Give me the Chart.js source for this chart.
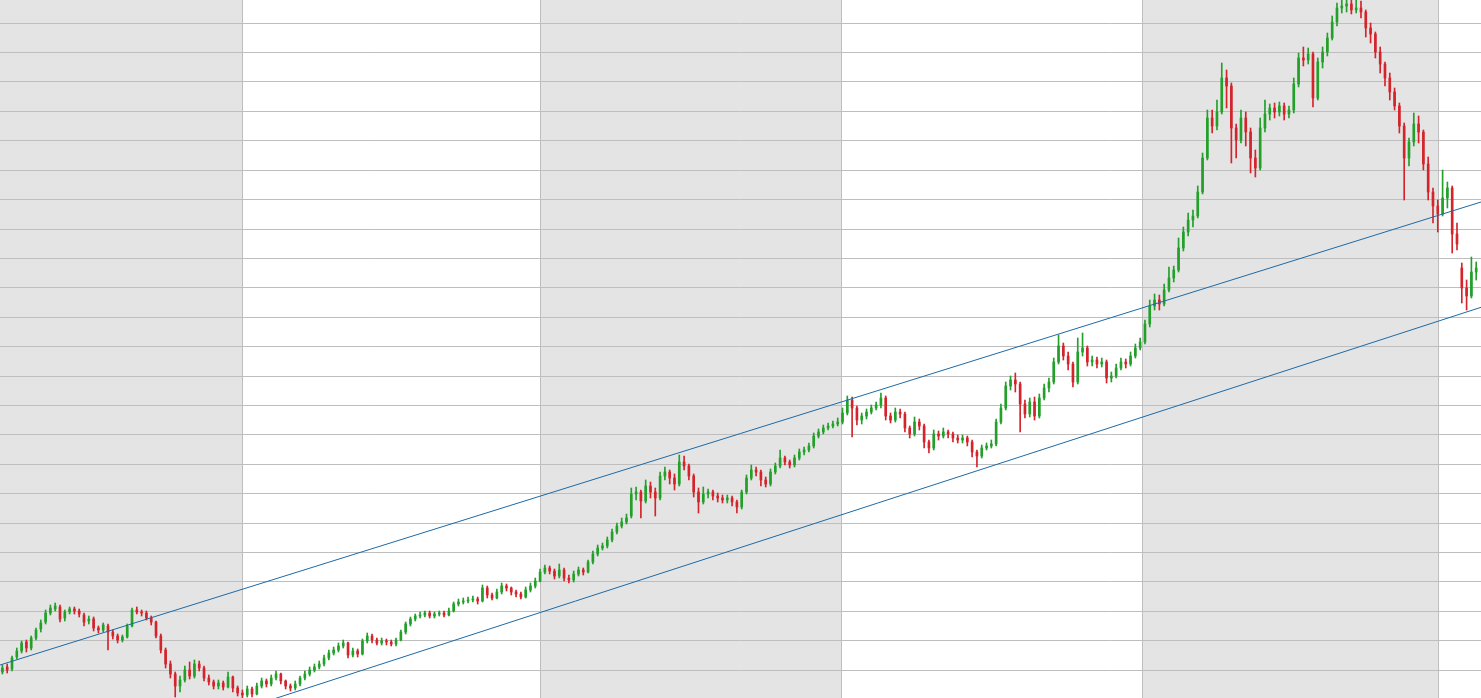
<!DOCTYPE html>
<html>
<head>
<meta charset="utf-8">
<title>Canal de tendência</title>
<script src="https://cdn.jsdelivr.net/npm/chart.js@4.4.1/dist/chart.umd.min.js"></script>
<style>
html, body { margin: 0; padding: 0; background: #ffffff; overflow: hidden; }
#caixa { position: relative; width: 1481px; height: 698px; }
</style>
</head>
<body>
<div id="caixa"><canvas id="grafico"></canvas></div>
<script>
// uma vela a cada 4 pregões, eixo x = índice do pregão
const passoDias = 4;
const totalDias = 1234;

const aberturas = [
    26, 31, 29, 41, 47, 56, 50, 60, 69, 76,
    85, 89, 91, 80, 86, 89, 87, 83, 77, 79,
    70, 68, 72, 66, 62, 58, 61, 72, 88, 86,
    85, 80, 76, 62, 48, 34, 24, 12, 18, 28,
    22, 34, 30, 20, 16, 12, 15, 11, 21, 10,
    5, 3, 9, 4, 12, 17, 14, 20, 24, 17,
    12, 10, 14, 20, 24, 28, 31, 34, 40, 45,
    48, 52, 55, 43, 47, 44, 57, 62, 58, 55,
    57, 56, 54, 58, 66, 74, 79, 82, 83, 85,
    82, 84, 85, 83, 87, 94, 96, 97, 98, 99,
    97, 110, 103, 100, 106, 112, 110, 106, 104, 101,
    108, 112, 117, 126, 130, 127, 122, 128, 120, 118,
    124, 128, 126, 136, 144, 150, 152, 158, 166, 172,
    176, 182, 204, 206, 197, 212, 206, 200, 222, 226,
    220, 214, 236, 232, 222, 206, 196, 204, 206, 202,
    200, 198, 200, 196, 191, 206, 220, 228, 226, 218,
    214, 226, 232, 240, 236, 233, 240, 246, 248, 252,
    262, 266, 270, 272, 274, 276, 285, 298, 290, 278,
    282, 286, 290, 293, 300, 282, 278, 286, 284, 270,
    264, 276, 272, 256, 250, 264, 262, 266, 264, 260,
    258, 260, 256, 246, 242, 250, 252, 254, 276, 290,
    312, 318, 314, 294, 284, 296, 282, 300, 310, 316,
    336, 352, 342, 334, 316, 346, 350, 336, 338, 334,
    336, 320, 322, 330, 336, 334, 342, 350, 356, 374,
    392, 398, 394, 408, 420, 428, 450, 466, 478, 482,
    506, 540, 580, 572, 586, 620, 612, 570, 558, 580,
    566, 540, 530, 570, 584, 590, 586, 592, 584, 588,
    614, 640, 638, 644, 600, 636, 646, 660, 676, 690,
    692, 694, 688, 690, 686, 670, 664, 646, 634, 620,
    606, 592, 572, 540, 556, 574, 566, 534, 506, 492,
    484, 500, 510, 464, 430, 410, 402, 426
];

const maximas = [
    33, 34, 42, 50, 57, 58, 62, 70, 78, 88,
    93, 95, 93, 88, 91, 91, 89, 85, 82, 81,
    72, 75, 74, 68, 64, 63, 74, 90, 91, 88,
    87, 82, 77, 64, 50, 37, 26, 22, 32, 36,
    38, 37, 32, 23, 18, 18, 17, 26, 22, 12,
    8, 12, 11, 15, 20, 19, 23, 27, 25, 18,
    14, 17, 22, 27, 31, 34, 37, 43, 48, 51,
    55, 58, 56, 50, 49, 59, 65, 64, 60, 60,
    59, 58, 60, 68, 76, 81, 84, 86, 87, 87,
    86, 87, 87, 90, 96, 99, 100, 101, 102, 101,
    113, 112, 105, 109, 115, 114, 111, 108, 106, 111,
    115, 120, 129, 133, 132, 129, 134, 130, 123, 127,
    131, 130, 138, 147, 153, 155, 161, 169, 175, 180,
    184, 210, 211, 208, 218, 216, 210, 226, 231, 228,
    224, 243, 242, 234, 224, 210, 211, 209, 208, 205,
    203, 203, 202, 198, 208, 223, 233, 231, 228, 221,
    229, 235, 248, 242, 238, 243, 249, 251, 255, 265,
    269, 273, 275, 277, 280, 290, 302, 301, 292, 285,
    289, 293, 296, 305, 302, 285, 290, 289, 286, 272,
    281, 279, 274, 258, 268, 267, 270, 268, 266, 263,
    263, 262, 258, 248, 253, 255, 258, 279, 294, 316,
    322, 325, 316, 298, 300, 301, 304, 314, 320, 340,
    363, 355, 346, 336, 360, 365, 352, 342, 341, 340,
    338, 326, 334, 340, 339, 346, 354, 360, 378, 398,
    404, 403, 414, 431, 432, 460, 471, 485, 488, 512,
    545, 588, 588, 598, 635, 628, 615, 574, 588, 586,
    570, 548, 580, 598, 594, 595, 596, 595, 592, 620,
    645, 651, 650, 646, 640, 651, 665, 682, 695, 698,
    700, 700, 698, 697, 688, 675, 666, 651, 636, 625,
    610, 595, 575, 560, 585, 582, 568, 541, 510, 498,
    528, 516, 512, 475, 435, 418, 441, 436
];

const minimas = [
    24, 25, 27, 39, 45, 46, 48, 58, 66, 74,
    83, 87, 76, 77, 84, 84, 81, 72, 74, 67,
    65, 66, 48, 59, 55, 56, 60, 71, 84, 82,
    78, 73, 60, 45, 30, 20, 1, 6, 16, 19,
    20, 27, 17, 13, 9, 9, 8, 10, 6, 2,
    0, 1, 1, 3, 10, 11, 12, 18, 14, 9,
    7, 8, 12, 18, 22, 26, 29, 32, 38, 43,
    46, 50, 40, 41, 41, 43, 55, 55, 53, 53,
    53, 52, 52, 57, 64, 72, 77, 80, 81, 80,
    80, 82, 81, 82, 86, 92, 94, 95, 96, 94,
    96, 100, 98, 99, 104, 107, 103, 101, 99, 100,
    106, 110, 116, 124, 124, 119, 120, 117, 115, 116,
    122, 123, 125, 134, 142, 148, 150, 156, 164, 170,
    174, 180, 198, 180, 195, 200, 182, 198, 218, 214,
    208, 212, 228, 218, 201, 185, 194, 200, 198, 196,
    195, 195, 192, 185, 189, 204, 218, 222, 212, 211,
    212, 224, 230, 233, 230, 231, 238, 243, 246, 250,
    260, 264, 268, 270, 272, 274, 283, 261, 273, 274,
    279, 284, 288, 290, 278, 275, 276, 280, 266, 260,
    262, 268, 250, 245, 248, 258, 260, 260, 256, 255,
    255, 252, 241, 231, 240, 248, 250, 252, 274, 288,
    308, 306, 266, 280, 281, 278, 280, 298, 306, 314,
    334, 338, 328, 311, 314, 342, 332, 332, 330, 331,
    315, 316, 320, 328, 330, 332, 340, 348, 354, 371,
    388, 388, 392, 406, 416, 426, 447, 462, 471, 480,
    504, 538, 565, 568, 584, 590, 535, 540, 555, 552,
    525, 521, 528, 566, 578, 580, 582, 578, 580, 585,
    611, 632, 634, 591, 598, 630, 642, 658, 672, 685,
    686, 684, 685, 680, 661, 655, 640, 625, 612, 598,
    588, 565, 498, 532, 552, 555, 528, 498, 475, 466,
    482, 490, 445, 448, 395, 388, 400, 418
];

const fechamentos = [
    30, 28, 40, 47, 55, 50, 60, 68, 75, 85,
    90, 92, 79, 86, 89, 87, 84, 76, 79, 70,
    68, 73, 66, 62, 58, 61, 72, 88, 86, 85,
    80, 76, 62, 48, 34, 24, 12, 18, 28, 22,
    34, 30, 20, 16, 12, 15, 11, 21, 10, 5,
    3, 9, 4, 12, 17, 14, 20, 24, 17, 12,
    10, 14, 20, 24, 28, 31, 34, 40, 45, 48,
    52, 55, 43, 47, 44, 57, 62, 58, 55, 57,
    56, 54, 58, 66, 74, 79, 82, 83, 85, 82,
    84, 85, 83, 87, 94, 96, 97, 98, 99, 97,
    110, 103, 100, 106, 112, 110, 106, 104, 101, 108,
    112, 117, 126, 130, 127, 122, 128, 120, 118, 124,
    128, 126, 136, 144, 150, 152, 158, 166, 172, 176,
    180, 204, 206, 197, 212, 206, 200, 222, 226, 220,
    214, 236, 232, 222, 206, 196, 204, 206, 202, 200,
    198, 200, 196, 191, 206, 220, 228, 226, 218, 214,
    226, 232, 240, 236, 233, 240, 246, 248, 252, 262,
    266, 270, 272, 274, 276, 285, 298, 290, 278, 282,
    286, 290, 293, 300, 282, 278, 286, 284, 270, 264,
    276, 272, 256, 250, 264, 262, 266, 264, 260, 258,
    260, 256, 246, 242, 250, 252, 254, 276, 290, 312,
    318, 314, 294, 284, 296, 282, 300, 310, 316, 336,
    352, 342, 334, 316, 346, 350, 336, 338, 334, 336,
    320, 322, 330, 336, 334, 342, 350, 356, 374, 392,
    398, 394, 408, 420, 428, 450, 466, 478, 482, 506,
    540, 580, 572, 586, 620, 612, 570, 558, 580, 566,
    540, 530, 570, 584, 590, 586, 592, 584, 588, 614,
    640, 638, 644, 600, 636, 646, 660, 676, 690, 692,
    694, 688, 690, 686, 670, 664, 646, 634, 620, 606,
    592, 572, 540, 556, 574, 566, 534, 506, 492, 484,
    500, 510, 464, 454, 410, 402, 426, 430
];

// primeiro pregão de cada ano
const iniciosAno = [202, 450, 701, 952, 1199];

// linhas horizontais da grade
const niveisGrade = [
    28, 57.4, 86.8, 116.2, 145.6, 175, 204.4, 233.8, 263.2, 292.6, 322, 351.4,
    380.8, 410.2, 439.6, 469, 498.4, 527.8, 557.2, 586.6, 616, 645.4, 674.8
];

// canal: valor no primeiro e no último pregão
const canalSuperior = [33, 496];
const canalInferior = [-89.8, 390.7];

const corAlta = "#22a02a";
const corBaixa = "#d3242b";
const corCanal = "#1c6aa6";
const corGrade = "#bebebe";
const corFaixa = "#e4e4e4";

function corVela(ctx) {
    let i = ctx.dataIndex;
    return fechamentos[i] >= aberturas[i] ? corAlta : corBaixa;
}

let pavios = fechamentos.map((c, i) => ({ x: i * passoDias + 2, y: [minimas[i], maximas[i]] }));
let corpos = fechamentos.map((c, i) => ({ x: i * passoDias + 2, y: [aberturas[i], c] }));

const faixasAno = {
    id: "faixasAno",
    beforeDraw(chart) {
        const { ctx, chartArea, scales } = chart;
        let limites = [0].concat(iniciosAno, [totalDias]);
        ctx.save();
        ctx.fillStyle = corFaixa;
        for (let i = 0; i < limites.length - 1; i += 2) {
            let x1 = scales.x.getPixelForValue(limites[i]);
            let x2 = scales.x.getPixelForValue(limites[i + 1]);
            ctx.fillRect(x1, chartArea.top, x2 - x1, chartArea.bottom - chartArea.top);
        }
        ctx.restore();
    }
};

new Chart(document.getElementById("grafico"), {
    type: "bar",
    data: {
        datasets: [
            {
                type: "line",
                data: [{ x: 0, y: canalSuperior[0] }, { x: totalDias, y: canalSuperior[1] }],
                borderColor: corCanal,
                borderWidth: 1,
                pointRadius: 0,
                fill: false,
                order: 0
            },
            {
                type: "line",
                data: [{ x: 0, y: canalInferior[0] }, { x: totalDias, y: canalInferior[1] }],
                borderColor: corCanal,
                borderWidth: 1,
                pointRadius: 0,
                fill: false,
                order: 0
            },
            {
                data: pavios,
                backgroundColor: corVela,
                barThickness: 1,
                grouped: false,
                order: 2
            },
            {
                data: corpos,
                backgroundColor: corVela,
                barThickness: 2,
                minBarLength: 1,
                grouped: false,
                order: 1
            }
        ]
    },
    options: {
        responsive: true,
        maintainAspectRatio: false,
        animation: false,
        layout: { padding: 0 },
        plugins: {
            legend: { display: false },
            tooltip: { enabled: false }
        },
        scales: {
            x: {
                type: "linear",
                min: 0,
                max: totalDias,
                offset: false,
                afterBuildTicks: function (escala) {
                    escala.ticks = iniciosAno.map(v => ({ value: v }));
                },
                ticks: { display: false },
                border: { display: false },
                grid: { color: corGrade, drawTicks: false, offset: false }
            },
            y: {
                min: 0,
                max: 698,
                afterBuildTicks: function (escala) {
                    escala.ticks = niveisGrade.map(v => ({ value: v }));
                },
                ticks: { display: false },
                border: { display: false },
                grid: { color: corGrade, drawTicks: false }
            }
        }
    },
    plugins: [faixasAno]
});
</script>
</body>
</html>
